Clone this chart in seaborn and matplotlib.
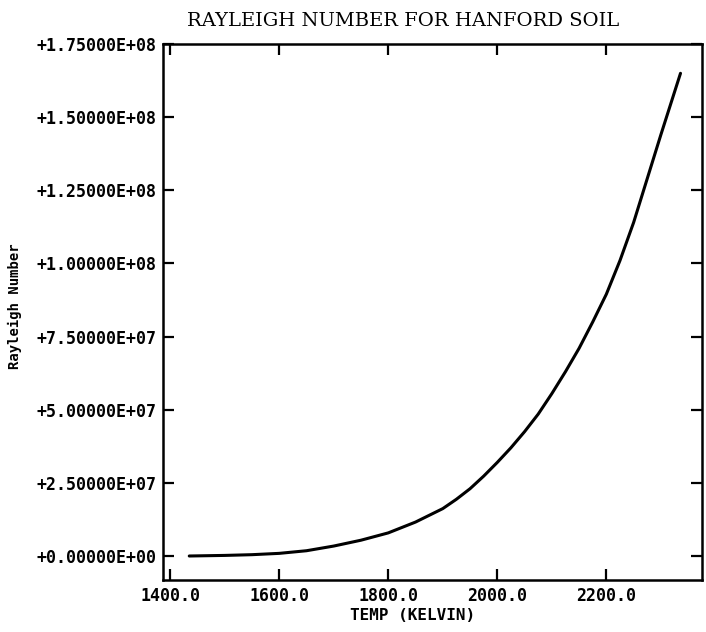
import matplotlib
matplotlib.use("Agg")
import matplotlib.pyplot as plt
import seaborn as sns
import pandas as pd
from matplotlib.ticker import FuncFormatter

# values
temp_k = [1435, 1500, 1550, 1600, 1650, 1700, 1750, 1800, 1850, 1900, 1925,
          1950, 1975, 2000, 2025, 2050, 2075, 2100, 2125, 2150, 2175, 2200,
          2225, 2250, 2275, 2300, 2336]
rayleigh = [0.0, 0.2e6, 0.45e6, 0.9e6, 1.8e6, 3.4e6, 5.4e6, 7.9e6, 11.6e6, 16.2e6, 19.4e6,
            23.0e6, 27.3e6, 32.0e6, 37.0e6, 42.5e6, 48.5e6, 55.5e6, 63.0e6, 71.0e6, 80.0e6, 89.5e6,
            101.0e6, 114.0e6, 129.0e6, 144.0e6, 165.0e6]
x_ticks = [1400, 1600, 1800, 2000, 2200]
y_ticks = [0, 2.5e7, 5.0e7, 7.5e7, 1.0e8, 1.25e8, 1.5e8, 1.75e8]

df = pd.DataFrame({"temp": temp_k, "ra": rayleigh})

sns.set_theme(style="ticks")
mono = ["DejaVu Sans Mono"]

fig = plt.figure(figsize=(7.06, 6.32), dpi=100)
ax = fig.add_axes([0.231, 0.0823, 0.763, 0.848])

sns.lineplot(data=df, x="temp", y="ra", color="black", linewidth=2.2, ax=ax)

ax.set_xlim(1387, 2375)
ax.set_ylim(-8.2e6, 1.75e8)
ax.set_xticks(x_ticks)
ax.set_yticks(y_ticks)
ax.xaxis.set_major_formatter(FuncFormatter(lambda v, p: f"{v:.1f}"))
ax.yaxis.set_major_formatter(FuncFormatter(lambda v, p: f"{v:+.5E}"))

ax.tick_params(direction="in", length=8, width=1.6, color="black",
               labelcolor="black", top=True, right=True, pad=5)
for lab in ax.get_xticklabels() + ax.get_yticklabels():
    lab.set_family(mono)
    lab.set_fontweight("bold")
    lab.set_fontsize(12)

for s in ax.spines.values():
    s.set_linewidth(1.8)
    s.set_color("black")

ax.set_xlabel("TEMP (KELVIN)", family=mono, fontweight="bold", fontsize=11.5,
              color="black")
ax.xaxis.set_label_coords(0.464, -0.052)
ax.set_ylabel("Rayleigh Number", family=mono, fontweight="bold", fontsize=10,
              color="black")
ax.yaxis.set_label_coords(-0.262, 0.51)

ax.set_title("RAYLEIGH NUMBER FOR HANFORD SOIL", family=["DejaVu Serif"],
             fontsize=14, x=0.445, pad=13, color="black")

fig.savefig("out.png", dpi=100)
